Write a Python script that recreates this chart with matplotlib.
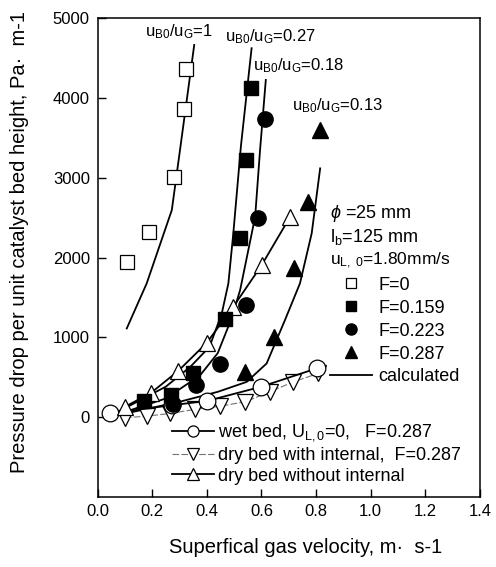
import matplotlib
matplotlib.use("Agg")
import matplotlib.pyplot as plt
from matplotlib.lines import Line2D

plt.rcParams['font.family'] = ['Liberation Sans', 'DejaVu Sans']
plt.rcParams['mathtext.fontset'] = 'custom'
plt.rcParams['mathtext.rm'] = 'Liberation Sans'
plt.rcParams['mathtext.it'] = 'Liberation Sans:italic'

# ---- experimental data ----
x_F0 = [0.107, 0.19, 0.28, 0.318, 0.324]
y_F0 = [1946, 2319, 3006, 3859, 4361]

x_F159 = [0.17, 0.27, 0.35, 0.467, 0.522, 0.542, 0.561]
y_F159 = [200, 280, 546, 1224, 2248, 3223, 4123]

x_F223 = [0.277, 0.36, 0.448, 0.542, 0.589, 0.613]
y_F223 = [160, 400, 660, 1403, 2491, 3734]

x_F287 = [0.54, 0.645, 0.719, 0.772, 0.815]
y_F287 = [566, 1000, 1863, 2700, 3600]

# ---- calculated curves ----
x_c1 = [0.107, 0.18, 0.272, 0.302, 0.354]
y_c1 = [1110, 1675, 2595, 3350, 4666]

x_c027 = [0.10, 0.25, 0.34, 0.41, 0.455, 0.479, 0.497, 0.525, 0.564]
y_c027 = [110, 380, 630, 880, 1300, 1675, 2300, 3400, 4625]

x_c018 = [0.12, 0.25, 0.375, 0.44, 0.49, 0.522, 0.577, 0.595, 0.616]
y_c018 = [85, 232, 520, 800, 1230, 1591, 2511, 3348, 4227]

x_c013 = [0.13, 0.30, 0.44, 0.546, 0.619, 0.686, 0.741, 0.784, 0.815]
y_c013 = [64, 190, 315, 440, 671, 1214, 1675, 2303, 3118]

# ---- reference beds ----
x_wet = [0.046, 0.272, 0.40, 0.598, 0.802]
y_wet = [44, 148, 200, 378, 609]

x_dry_int = [0.10, 0.18, 0.265, 0.357, 0.448, 0.54, 0.631, 0.717, 0.808]
y_dry_int = [-10, 10, 44, 95, 135, 190, 315, 441, 546]

x_dry = [0.10, 0.195, 0.296, 0.40, 0.497, 0.601, 0.705]
y_dry = [127, 300, 579, 930, 1382, 1905, 2511]

curve_labels = [r'u$_{\mathrm{B0}}$/u$_{\mathrm{G}}$=1',
                r'u$_{\mathrm{B0}}$/u$_{\mathrm{G}}$=0.27',
                r'u$_{\mathrm{B0}}$/u$_{\mathrm{G}}$=0.18',
                r'u$_{\mathrm{B0}}$/u$_{\mathrm{G}}$=0.13']
curve_label_pos = [(0.174, 4779), (0.467, 4707), (0.570, 4344), (0.711, 3850)]

fig = plt.figure(figsize=(4.96, 5.67), dpi=100)
ax = fig.add_axes([0.1966, 0.124, 0.7711, 0.8437])

lw = 1.3
# calculated curves
for xc, yc in [(x_c1, y_c1), (x_c027, y_c027), (x_c018, y_c018), (x_c013, y_c013)]:
    ax.plot(xc, yc, color='black', lw=lw, zorder=2)

# reference beds
ax.plot(x_dry_int, y_dry_int, color='0.45', lw=0.8, dashes=(6, 2), marker='v',
        ms=11, mfc='white', mec='black', mew=0.9, zorder=3)
ax.plot(x_wet, y_wet, color='black', lw=lw, marker='o', ms=12,
        mfc='white', mec='black', mew=0.9, zorder=3)
ax.plot(x_dry, y_dry, color='black', lw=lw, marker='^', ms=12,
        mfc='white', mec='black', mew=0.9, zorder=4)

# experimental points
ax.plot(x_F0, y_F0, ls='none', marker='s', ms=9.5, mfc='white', mec='black', mew=0.9, zorder=5)
ax.plot(x_F159, y_F159, ls='none', marker='s', ms=9.5, color='black', zorder=5)
ax.plot(x_F223, y_F223, ls='none', marker='o', ms=11, color='black', zorder=5)
ax.plot(x_F287, y_F287, ls='none', marker='^', ms=11.5, color='black', zorder=5)

for lab, (px, py) in zip(curve_labels, curve_label_pos):
    ax.text(px, py, lab, fontsize=12, ha='left', va='baseline')

ax.set_xlim(0, 1.4)
ax.set_ylim(-1000, 5000)
ax.set_xticks([0.0, 0.2, 0.4, 0.6, 0.8, 1.0, 1.2, 1.4])
ax.set_xticklabels(['0.0', '0.2', '0.4', '0.6', '0.8', '1.0', '1.2', '1.4'])
ax.set_yticks([0, 1000, 2000, 3000, 4000, 5000])
ax.tick_params(direction='in', length=6, width=1, labelsize=12, pad=5.5,
               top=False, right=False)
for s in ax.spines.values():
    s.set_linewidth(1.1)

ax.set_xlabel('Superfical gas velocity, m\u00b7  s-1', fontsize=14.5)
ax.set_ylabel('Pressure drop per unit catalyst bed height, Pa\u00b7  m-1', fontsize=14.5)
ax.xaxis.set_label_coords(0.545, -0.086)
ax.yaxis.set_label_coords(-0.179, 0.532)

# parameter text
ax.text(0.608, 0.591, r'$\phi$ =25 mm', transform=ax.transAxes, fontsize=13, va='center')
ax.text(0.608, 0.542, r'l$_{\mathrm{b}}$=125 mm', transform=ax.transAxes, fontsize=13, va='center')
ax.text(0.608, 0.492, r'u$_{\mathrm{L,\ 0}}$=1.80mm/s', transform=ax.transAxes, fontsize=12.5, va='center')

h1 = [Line2D([], [], ls='none', marker='s', ms=6.5, mfc='white', mec='black', mew=0.9),
      Line2D([], [], ls='none', marker='s', ms=6.5, color='black'),
      Line2D([], [], ls='none', marker='o', ms=8, color='black'),
      Line2D([], [], ls='none', marker='^', ms=8.5, color='black'),
      Line2D([], [], color='black', lw=lw)]
l1 = ['F=0', 'F=0.159', 'F=0.223', 'F=0.287', 'calculated']
leg1 = ax.legend(h1, l1, loc='upper left', bbox_to_anchor=(0.608, 0.46), frameon=False,
                 fontsize=13, handlelength=2.33, handletextpad=0.33, labelspacing=0.33,
                 borderpad=0, borderaxespad=0)
ax.add_artist(leg1)

h2 = [Line2D([], [], color='black', lw=lw, marker='o', ms=8, mfc='white', mec='black', mew=0.9),
      Line2D([], [], color='0.45', lw=0.8, dashes=(6, 2), marker='v', ms=8, mfc='white', mec='black', mew=0.9),
      Line2D([], [], color='black', lw=lw, marker='^', ms=8, mfc='white', mec='black', mew=0.9)]
l2 = [r'wet bed, U$_{\mathrm{L,0}}$=0,   F=0.287',
      'dry bed with internal,  F=0.287',
      'dry bed without internal']
leg2 = ax.legend(h2, l2, loc='upper left', bbox_to_anchor=(0.195, 0.155), frameon=False,
                 fontsize=13, handlelength=2.33, handletextpad=0.2, labelspacing=0.2,
                 borderpad=0, borderaxespad=0)

fig.savefig('out.png', dpi=100)
